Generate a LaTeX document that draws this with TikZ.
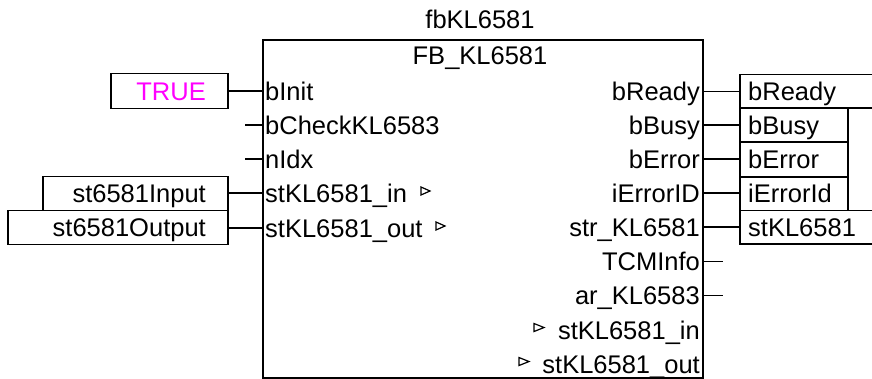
\documentclass[tikz,border=0pt]{standalone}
\usepackage{fontspec}
\setmainfont{Liberation Sans}
\definecolor{truemag}{RGB}{255,0,255}
\begin{document}
\begin{tikzpicture}[x=1pt,y=-1pt,
  txt/.style={inner sep=0pt, font=\fontsize{25.5}{30}\selectfont},
  bx/.style={draw, line width=1.6pt, inner sep=0pt, anchor=north west},
  wire/.style={line width=1.6pt},
  tri/.style={line width=1.2pt, line join=miter}]
\useasboundingbox (0,0) rectangle (872,378);
\clip (0,0) rectangle (872,378);
% main block
\node[bx, line width=1.8pt, minimum width=440pt, minimum height=338pt] (blk) at (262,39) {};
\node[txt, anchor=base] (inst) at (480,28) {fbKL6581};
\node[txt, anchor=base] (type) at (480,64) {FB\_KL6581};
% input pins
\coordinate (pi1) at (262,91);
\coordinate (pi2) at (262,125);
\coordinate (pi3) at (262,159);
\coordinate (pi4) at (262,193);
\coordinate (pi5) at (262,228);
\node[txt, anchor=base west] (in1) at (265,100) {bInit};
\node[txt, anchor=base west] (in2) at (265,134) {bCheckKL6583};
\node[txt, anchor=base west] (in3) at (265,168) {nIdx};
\node[txt, anchor=base west] (in4) at (265,202) {stKL6581\_in};
\node[txt, anchor=base west] (in5) at (265,237) {stKL6581\_out};
\draw[tri] (421,187) -- (430,191) -- (421,195) -- cycle;
\draw[tri] (436,222) -- (445,226) -- (436,230) -- cycle;
% output pins
\coordinate (po1) at (702,91.5);
\coordinate (po2) at (702,125);
\coordinate (po3) at (702,159);
\coordinate (po4) at (702,193);
\coordinate (po5) at (702,227);
\coordinate (po6) at (702,261.5);
\coordinate (po7) at (702,295.5);
\node[txt, anchor=base east] (out1) at (700,100) {bReady};
\node[txt, anchor=base east] (out2) at (700,134) {bBusy};
\node[txt, anchor=base east] (out3) at (700,168) {bError};
\node[txt, anchor=base east] (out4) at (700,202) {iErrorID};
\node[txt, anchor=base east] (out5) at (700,236) {str\_KL6581};
\node[txt, anchor=base east] (out6) at (700,270) {TCMInfo};
\node[txt, anchor=base east] (out7) at (700,304) {ar\_KL6583};
\node[txt, anchor=base east] (out8) at (700,339) {stKL6581\_in};
\node[txt, anchor=base east] (out9) at (700,373) {stKL6581\_out};
\draw[tri] (534,323.5) -- (544,327.5) -- (534,331.5) -- cycle;
\draw[tri] (519,357.5) -- (529,361.5) -- (519,365.5) -- cycle;
% left value boxes
\node[bx, minimum width=117pt, minimum height=35pt] (vTrue) at (110,72.5) {};
\node[txt, anchor=base east, text=truemag] (tTrue) at (206,100) {TRUE};
\node[bx, minimum width=185pt, minimum height=34pt] (vIn) at (42,175.5) {};
\node[txt, anchor=base east] (tIn) at (206,202) {st6581Input};
\node[bx, minimum width=220pt, minimum height=34pt] (vOut) at (7,209.5) {};
\node[txt, anchor=base east] (tOut) at (206,236.5) {st6581Output};
\draw[wire] (vTrue.east |- pi1) -- (pi1);
\draw[wire] (vIn.east |- pi4) -- (pi4);
\draw[wire] (vOut.east |- pi5) -- (pi5);
\coordinate (s2) at (245,125);
\coordinate (s3) at (245,159);
\draw[wire] (s2) -- (pi2);
\draw[wire] (s3) -- (pi3);
% right variable boxes
\node[bx, minimum width=150pt, minimum height=33.5pt] (rReady) at (739,73.5) {};
\node[bx, minimum width=108pt, minimum height=34pt] (rBusy) at (739,107) {};
\node[bx, minimum width=108pt, minimum height=35pt] (rError) at (739,141) {};
\node[bx, minimum width=108pt, minimum height=33.5pt] (rErrId) at (739,176) {};
\node[bx, minimum width=150pt, minimum height=33.5pt] (rSt) at (739,209.5) {};
\node[txt, anchor=base west] (tReady) at (748,100.5) {bReady};
\node[txt, anchor=base west] (tBusy) at (748,134) {bBusy};
\node[txt, anchor=base west] (tError) at (748,168) {bError};
\node[txt, anchor=base west] (tErrId) at (748,202) {iErrorId};
\node[txt, anchor=base west] (tSt) at (748,236) {stKL6581};
\draw[wire] (po1) -- (rReady.west |- po1);
\draw[wire] (po2) -- (rBusy.west |- po2);
\draw[wire] (po3) -- (rError.west |- po3);
\draw[wire] (po4) -- (rErrId.west |- po4);
\draw[wire] (po5) -- (rSt.west |- po5);
\coordinate (e6) at (723,261.5);
\coordinate (e7) at (723,295.5);
\draw[wire] (po6) -- (e6);
\draw[wire] (po7) -- (e7);
\end{tikzpicture}
\end{document}
